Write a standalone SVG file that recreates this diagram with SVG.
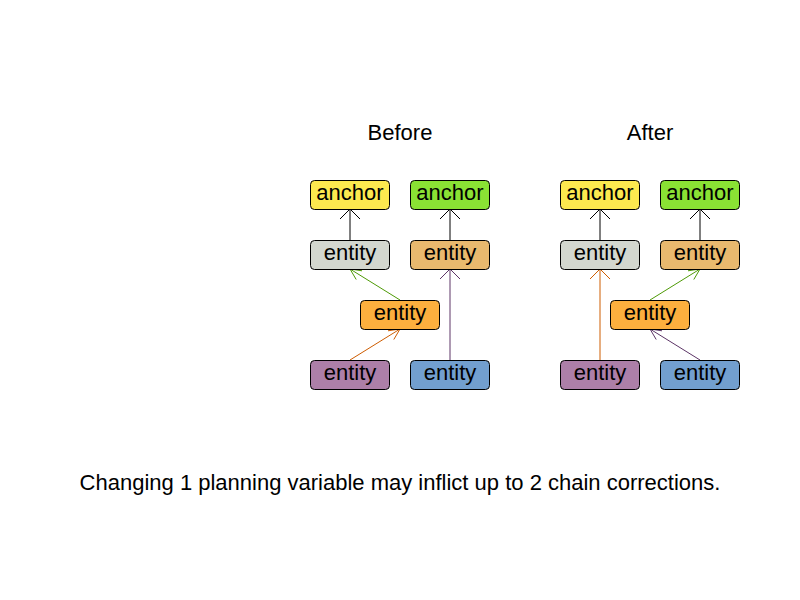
<svg xmlns="http://www.w3.org/2000/svg" width="800" height="600" viewBox="0 0 800 600">
<style>
text{font-family:"Liberation Sans",Arial,sans-serif;font-size:22px;fill:#000}
.t{text-anchor:middle}
.b rect{stroke:#000;stroke-width:1}
.c line,.c polyline{fill:none;stroke-width:1}
</style>
<rect width="800" height="600" fill="#fff"/>
<text class="t" x="400" y="140">Before</text>
<text class="t" x="650" y="140">After</text>
<g class="c" id="connectors">
<line x1="350" y1="240" x2="350" y2="209" stroke="#000"/>
<polyline points="340,219 350,209 360,219" stroke="#000"/>
<line x1="450" y1="240" x2="450" y2="209" stroke="#000"/>
<polyline points="440,219 450,209 460,219" stroke="#000"/>
<line x1="400" y1="300" x2="350" y2="269" stroke="#4e9a06"/>
<polyline points="356.2,279.5 350,269 362,270.8" stroke="#4e9a06"/>
<line x1="350" y1="360" x2="400" y2="329" stroke="#ce5c00"/>
<polyline points="388,330.8 400,329 393.8,339.5" stroke="#ce5c00"/>
<line x1="450" y1="360" x2="450" y2="269" stroke="#5c3566"/>
<polyline points="440,279 450,269 460,279" stroke="#5c3566"/>
<line x1="600" y1="240" x2="600" y2="209" stroke="#000"/>
<polyline points="590,219 600,209 610,219" stroke="#000"/>
<line x1="700" y1="240" x2="700" y2="209" stroke="#000"/>
<polyline points="690,219 700,209 710,219" stroke="#000"/>
<line x1="600" y1="360" x2="600" y2="269" stroke="#ce5c00"/>
<polyline points="590,279 600,269 610,279" stroke="#ce5c00"/>
<line x1="650" y1="300" x2="700" y2="269" stroke="#4e9a06"/>
<polyline points="688,270.8 700,269 693.8,279.5" stroke="#4e9a06"/>
<line x1="700" y1="360" x2="650" y2="329" stroke="#5c3566"/>
<polyline points="656.2,339.5 650,329 662,330.8" stroke="#5c3566"/>
</g>
<g class="b" id="b-anchor1"><rect x="310.5" y="180.5" width="79" height="29" rx="4" fill="#fce94f"/><text class="t" x="350" y="200">anchor</text></g>
<g class="b" id="b-anchor2"><rect x="410.5" y="180.5" width="79" height="29" rx="4" fill="#8ae234"/><text class="t" x="450" y="200">anchor</text></g>
<g class="b" id="b-entity1"><rect x="310.5" y="240.5" width="79" height="29" rx="4" fill="#d3d7cf"/><text class="t" x="350" y="260">entity</text></g>
<g class="b" id="b-entity2"><rect x="410.5" y="240.5" width="79" height="29" rx="4" fill="#e9b96e"/><text class="t" x="450" y="260">entity</text></g>
<g class="b" id="b-entity3"><rect x="360.5" y="300.5" width="79" height="29" rx="4" fill="#fcaf3e"/><text class="t" x="400" y="320">entity</text></g>
<g class="b" id="b-entity4"><rect x="310.5" y="360.5" width="79" height="29" rx="4" fill="#ad7fa8"/><text class="t" x="350" y="380">entity</text></g>
<g class="b" id="b-entity5"><rect x="410.5" y="360.5" width="79" height="29" rx="4" fill="#729fcf"/><text class="t" x="450" y="380">entity</text></g>
<g class="b" id="a-anchor1"><rect x="560.5" y="180.5" width="79" height="29" rx="4" fill="#fce94f"/><text class="t" x="600" y="200">anchor</text></g>
<g class="b" id="a-anchor2"><rect x="660.5" y="180.5" width="79" height="29" rx="4" fill="#8ae234"/><text class="t" x="700" y="200">anchor</text></g>
<g class="b" id="a-entity1"><rect x="560.5" y="240.5" width="79" height="29" rx="4" fill="#d3d7cf"/><text class="t" x="600" y="260">entity</text></g>
<g class="b" id="a-entity2"><rect x="660.5" y="240.5" width="79" height="29" rx="4" fill="#e9b96e"/><text class="t" x="700" y="260">entity</text></g>
<g class="b" id="a-entity3"><rect x="610.5" y="300.5" width="79" height="29" rx="4" fill="#fcaf3e"/><text class="t" x="650" y="320">entity</text></g>
<g class="b" id="a-entity4"><rect x="560.5" y="360.5" width="79" height="29" rx="4" fill="#ad7fa8"/><text class="t" x="600" y="380">entity</text></g>
<g class="b" id="a-entity5"><rect x="660.5" y="360.5" width="79" height="29" rx="4" fill="#729fcf"/><text class="t" x="700" y="380">entity</text></g>
<text class="t" x="400" y="490">Changing 1 planning variable may inflict up to 2 chain corrections.</text>
</svg>
